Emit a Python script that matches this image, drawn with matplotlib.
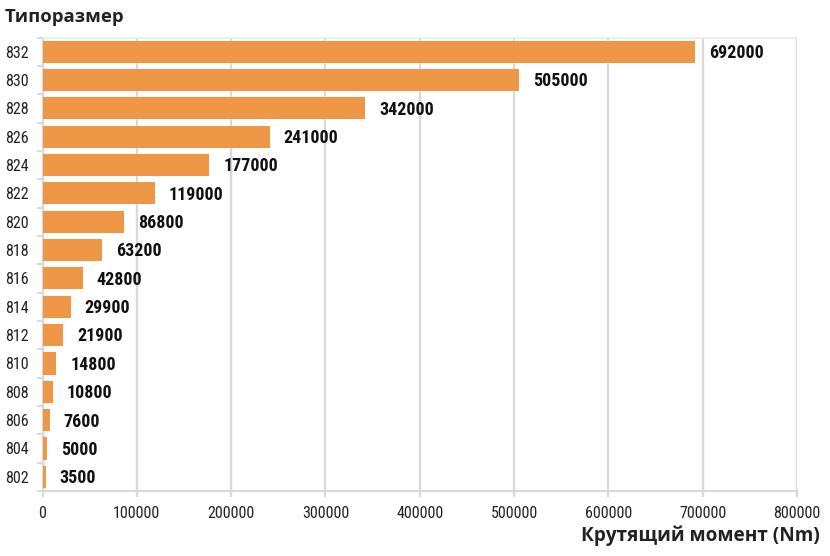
import matplotlib
matplotlib.use("Agg")
import matplotlib.pyplot as plt
from matplotlib.ticker import FixedLocator

categories = ["802", "804", "806", "808", "810", "812", "814", "816",
              "818", "820", "822", "824", "826", "828", "830", "832"]
values = [3500, 5000, 7600, 10800, 14800, 21900, 29900, 42800,
          63200, 86800, 119000, 177000, 241000, 342000, 505000, 692000]
xticks = [0, 100000, 200000, 300000, 400000, 500000, 600000, 700000, 800000]
title_text = "Типоразмер"
xlabel_text = "Крутящий момент (Nm)"

narrow = ["Roboto Condensed", "Archivo Narrow", "Liberation Sans Narrow", "DejaVu Sans"]
boldfam = ["Open Sans", "DejaVu Sans"]
bar_color = "#EE9746"
grid_color = "#D9D9D9"

fig = plt.figure(figsize=(8.3, 5.56), dpi=100)
ax = fig.add_axes([42.5 / 830, 1 - 491 / 556, (797 - 42.5) / 830, (491 - 37.5) / 556])

y = list(range(len(categories)))
ax.barh(y, values, height=0.78, color=bar_color, zorder=3)
ax.set_ylim(-0.5, len(categories) - 0.5)
ax.set_xlim(0, 800000)

for yi, v in zip(y, values):
    ax.annotate(str(v), (v, yi), xytext=(10, -1), textcoords="offset points",
                ha="left", va="center", fontsize=13, fontweight="bold",
                family=narrow, color="#111111", zorder=4)

ax.xaxis.set_major_locator(FixedLocator(xticks))
ax.set_xticklabels([str(t) for t in xticks], family=narrow, fontsize=11.5, color="#222222")
ax.grid(axis="x", color=grid_color, linewidth=1.6, zorder=0)
ax.tick_params(axis="x", length=4, width=1.6, color=grid_color, pad=7)

ax.set_yticks(y)
ax.set_yticklabels(categories, family=narrow, fontsize=11.5, color="#222222")
ax.yaxis.set_minor_locator(FixedLocator([i - 0.5 for i in range(len(categories) + 1)]))
ax.tick_params(axis="y", which="major", length=0, pad=10)
ax.tick_params(axis="y", which="minor", length=4, width=1.4, color=grid_color)

for side in ["left", "bottom"]:
    ax.spines[side].set_color(grid_color)
    ax.spines[side].set_linewidth(1.6)
ax.spines["top"].set_color("#EBEBEB")
ax.spines["top"].set_linewidth(1.2)
ax.spines["right"].set_visible(False)

fig.text(5 / 830, 1 - 17 / 556, title_text, fontsize=13.3, fontweight="bold",
         family=boldfam, ha="left", va="center", color="#222222")
fig.text(820 / 830, 1 - 536 / 556, xlabel_text, fontsize=13.7, fontweight="bold",
         family=boldfam, ha="right", va="center", color="#222222")

fig.savefig("out.png", dpi=100)
